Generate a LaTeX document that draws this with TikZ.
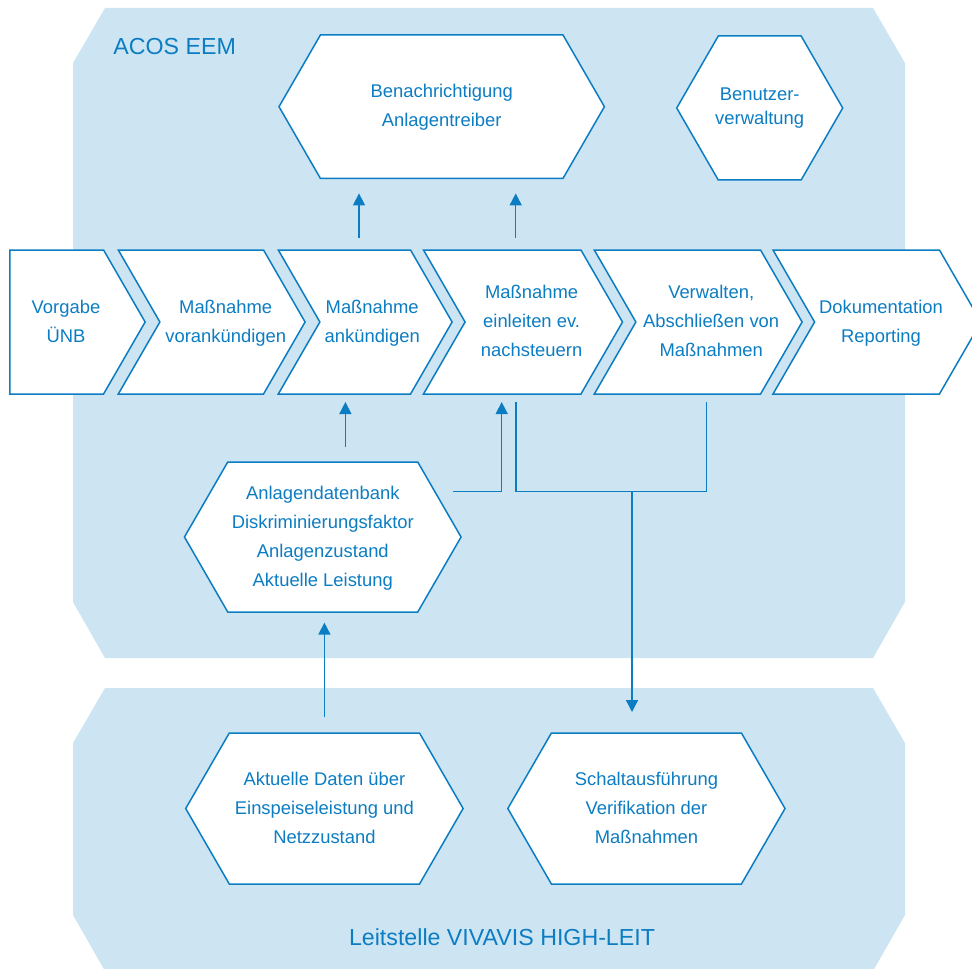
\documentclass[tikz,border=0pt]{standalone}
\usepackage{fontspec}
\setmainfont{Liberation Sans}
\usetikzlibrary{
    positioning,
    arrows.meta,
    shapes.symbols
}
\definecolor{eemblue}{RGB}{12,125,195}
\definecolor{eemback}{RGB}{205,229,242}
% centred lines, optionally pushed right
\newcommand{\boxlines}[2][0pt]{\hspace*{#1}\begin{tabular}{@{}c@{}}#2\end{tabular}}
\tikzset{%
    panel/.style={%
        fill=eemback,
        draw=none
    },
    panel title/.style={%
        text=eemblue,
        inner sep=0pt,
        font=\fontsize{11.6}{14}\selectfont
    },
    chevron/.style={%
        signal,
        signal from=west,
        signal to=east,
        signal pointer angle=120,
        draw=eemblue,
        fill=white,
        line width=0.75pt,
        inner sep=0pt,
        inner xsep=-20pt,
        outer sep=0pt,
        minimum height=72pt,
        text=eemblue,
        font=\fontsize{9.2}{14.5}\selectfont
    },
    first chevron/.style={%
        chevron,
        signal from=nowhere,
        inner xsep=1.65pt
    },
    hexagon/.style={%
        chevron,
        signal from=nowhere,
        signal to=east and west,
        inner xsep=-10pt
    },
    link/.style={%
        draw=eemblue,
        line width=0.75pt
    },
    arrow/.style={%
        link,
        -{Triangle[length=6pt,width=6pt]}
    },
}

\begin{document}
\begin{tikzpicture}[x=0.5pt,y=-0.5pt]
    \useasboundingbox (0,0) rectangle (972,968);
    \clip (0,0) rectangle (972,968);

    % the two systems
    \path[panel] (105,8) -- (873,8) -- (905,63) -- (905,602) -- (873,658)
        -- (105,658) -- (73,602) -- (73,63) -- cycle;
    \path[panel] (105,688) -- (873,688) -- (905,743) -- (905,915) -- (873,971)
        -- (105,971) -- (73,915) -- (73,743) -- cycle;
    \node[panel title, anchor=west] (acos) at (113,47) {ACOS EEM};
    \node[panel title] (leit) at (502,937) {Leitstelle VIVAVIS HIGH-LEIT};

    % process chain
    \node[first chevron] (vorgabe) at (56.7,322) {\boxlines[9.3pt]{Vorgabe\\ÜNB}};
    \node[chevron, minimum width=93.4pt] (vorank) at (211.7,322) {\boxlines[14pt]{Maßnahme\\vorankündigen}};
    \node[chevron, minimum width=86.9pt] (ankuend) at (365.2,322) {\boxlines[7pt]{Maßnahme\\ankündigen}};
    \node[chevron, minimum width=99.5pt] (einleit) at (523,322) {\boxlines[8.6pt]{Maßnahme\\einleiten ev.\\nachsteuern}};
    \node[chevron, minimum width=103.9pt] (verwalt) at (698.2,322) {\boxlines[13pt]{Verwalten,\\Abschließen von\\Maßnahmen}};
    \node[chevron, minimum width=104pt] (doku) at (877,322) {\boxlines[4pt]{Dokumentation\\Reporting}};

    % modules
    \node[hexagon, minimum width=162.7pt, minimum height=71.7pt] (benach) at (441.7,106.7) {\boxlines{Benachrichtigung\\Anlagentreiber}};
    \node[hexagon, minimum width=83pt, font=\fontsize{9.2}{12}\selectfont] (benutzer) at (759.7,108) {\boxlines{Benutzer-\\verwaltung}};
    \node[hexagon, minimum width=138.3pt, minimum height=75pt] (adb) at (322.75,537) {\boxlines{Anlagendatenbank\\Diskriminierungsfaktor\\Anlagenzustand\\Aktuelle Leistung}};
    \node[hexagon, minimum width=138.7pt, minimum height=75.5pt] (daten) at (324.4,808.5) {\boxlines{Aktuelle Daten über\\Einspeiseleistung und\\Netzzustand}};
    \node[hexagon, minimum width=138.6pt, minimum height=75.5pt] (schalt) at (646.4,808.5) {\boxlines{Schaltausführung\\Verifikation der\\Maßnahmen}};

    % connectors
    \coordinate (xa) at (359,0);
    \coordinate (xb) at (515.7,0);
    \coordinate (xc) at (345.4,0);
    \coordinate (xd) at (501.7,0);
    \coordinate (xe) at (516,0);
    \coordinate (xf) at (706.7,0);
    \coordinate (adbout) at (453.3,491.7);
    \coordinate (junction) at (632,491.7);

    \draw[arrow, shorten <=6pt, shorten >=7.5pt] (ankuend.north -| xa) -- (benach.south -| xa);
    \draw[arrow, shorten <=6pt, shorten >=7.5pt] (einleit.north -| xb) -- (benach.south -| xb);
    \draw[arrow, shorten <=7.5pt, shorten >=4pt] (adb.north -| xc) -- (ankuend.south -| xc);
    \draw[arrow, shorten >=4pt] (adbout) -| (einleit.south -| xd);
    \draw[link, shorten <=4pt, shorten >=4pt] (einleit.south -| xe) |- (junction) -| (verwalt.south -| xf);
    \draw[arrow, shorten >=10.5pt] (junction) -- (schalt.north -| junction);
    \draw[arrow, shorten <=8pt, shorten >=5.3pt] (daten.north) -- (adb.south -| daten.north);
\end{tikzpicture}
\end{document}
